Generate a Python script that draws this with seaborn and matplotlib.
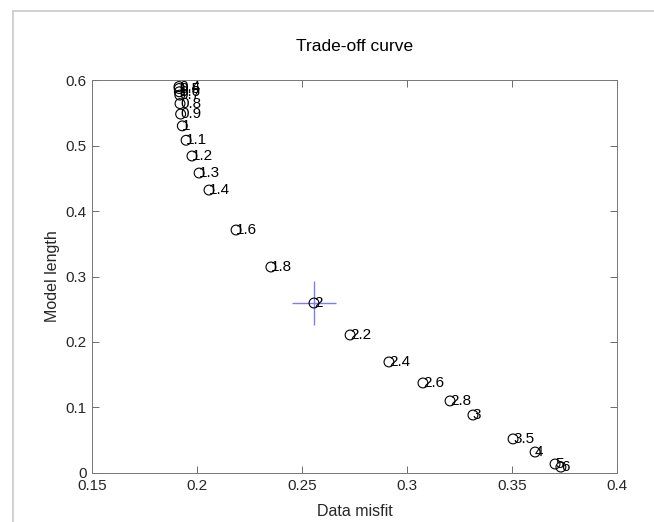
import matplotlib
matplotlib.use("Agg")
import matplotlib.pyplot as plt
import seaborn as sns
import pandas as pd
from matplotlib.lines import Line2D

# Regularization parameters and the resulting misfit / model length
alphas = [0.4, 0.5, 0.6, 0.7, 0.8, 0.9, 1, 1.1, 1.2, 1.3, 1.4, 1.6, 1.8, 2,
          2.2, 2.4, 2.6, 2.8, 3, 3.5, 4, 5, 6]
labels = ["0.4", "0.5", "0.6", "0.7", "0.8", "0.9", "1", "1.1", "1.2", "1.3",
          "1.4", "1.6", "1.8", "2", "2.2", "2.4", "2.6", "2.8", "3", "3.5",
          "4", "5", "6"]
data_misfit = [0.1914, 0.1915, 0.1916, 0.1918, 0.1919, 0.1922, 0.1930, 0.1948,
               0.1976, 0.2010, 0.2057, 0.2186, 0.2352, 0.2557, 0.2729, 0.2914,
               0.3076, 0.3205, 0.3314, 0.3505, 0.3610, 0.3705, 0.3733]
model_length = [0.590, 0.587, 0.582, 0.577, 0.564, 0.548, 0.530, 0.508,
                0.484, 0.458, 0.432, 0.371, 0.3145, 0.2595, 0.2107, 0.1695,
                0.1374, 0.1100, 0.0885, 0.0520, 0.0320, 0.0137, 0.0090]
chosen_alpha = 2

x_ticks = [0.15, 0.2, 0.25, 0.3, 0.35, 0.4]
x_ticklabels = ["0.15", "0.2", "0.25", "0.3", "0.35", "0.4"]
y_ticks = [0, 0.1, 0.2, 0.3, 0.4, 0.5, 0.6]
y_ticklabels = ["0", "0.1", "0.2", "0.3", "0.4", "0.5", "0.6"]

df = pd.DataFrame({"alpha": alphas, "label": labels,
                   "misfit": data_misfit, "length": model_length})

sns.set_theme(style="white")
plt.rcParams["font.family"] = ["Liberation Sans", "DejaVu Sans"]

fig = plt.figure(figsize=(6.54, 5.22), dpi=100)
ax = fig.add_axes([0.1407, 0.0939, 0.8027, 0.7528])

sns.scatterplot(data=df, x="misfit", y="length", ax=ax, marker="o", s=50,
                facecolor="none", edgecolor="black", linewidth=0.8, zorder=3)

for _, row in df.iterrows():
    ax.text(row["misfit"], row["length"], row["label"], fontsize=11,
            ha="left", va="center", color="black", zorder=4)

# Highlight the selected regularization parameter
sel = df[df["alpha"] == chosen_alpha].iloc[0]
ax.plot([sel["misfit"]], [sel["length"]], marker="+", markersize=32,
        markeredgewidth=1.0, color="#7b7bff", linestyle="none", zorder=2)

ax.set_xlim(0.15, 0.4)
ax.set_ylim(0, 0.6)
ax.set_xticks(x_ticks)
ax.set_xticklabels(x_ticklabels)
ax.set_yticks(y_ticks)
ax.set_yticklabels(y_ticklabels)
ax.tick_params(direction="in", length=5, width=0.6, color="#555555",
               labelsize=11, labelcolor="#262626", top=True, right=True,
               bottom=True, left=True, pad=4)
for sp in ax.spines.values():
    sp.set_visible(True)
    sp.set_color("#777777")
    sp.set_linewidth(0.7)

ax.set_xlabel("Data misfit", fontsize=11.5, color="#262626", labelpad=8)
ax.set_ylabel("Model length", fontsize=11.5, color="#262626", labelpad=4)
ax.set_title("Trade-off curve", fontsize=12.5, color="black", pad=21)

# Window frame edges
fig.add_artist(Line2D([13 / 654, 13 / 654], [0, 1 - 11 / 522],
                      transform=fig.transFigure, color="#c8c8c8", lw=1.2))
fig.add_artist(Line2D([13 / 654, 1], [1 - 11 / 522, 1 - 11 / 522],
                      transform=fig.transFigure, color="#c8c8c8", lw=1.2))

fig.savefig("out.png", dpi=100, facecolor="white")
